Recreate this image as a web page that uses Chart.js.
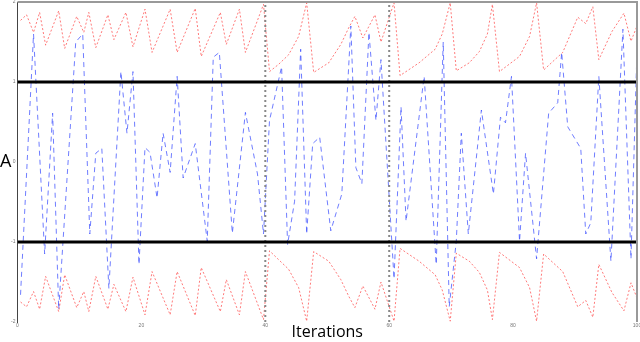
<!DOCTYPE html>
<html>
<head>
<meta charset="utf-8">
<script src="https://cdn.jsdelivr.net/npm/chart.js@4"></script>
<style>
  body { margin: 0; background: #fff; }
  #wrap { width: 640px; height: 342px; }
</style>
</head>
<body>
<div id="wrap"><canvas id="myChart" width="640" height="342"></canvas></div>
<script>
// iterations ticks and y ticks
const xTicks = [0, 20, 40, 60, 80, 100]
const yTicks = [-2, -1, 0, 1, 2]
const thresholds = [1, -1]
const phaseMarks = [40, 60]

// red bound (top) and its mirror (bottom)
const redX = [0.49, 1.46, 2.59, 3.57, 4.54, 6.65, 7.62, 9.56, 10.70, 11.51, 12.64, 14.59, 15.56, 17.50, 18.64,
  20.58, 21.72, 24.64, 25.77, 28.69, 29.66, 32.74, 33.71, 35.82, 36.79, 39.71, 40.68, 42.14, 43.76, 45.38,
  46.68, 47.81, 50.24, 52.19, 53.48, 54.46, 55.75, 57.70, 58.67, 60.78, 61.75, 64.83, 67.42, 68.56, 69.85,
  70.83, 72.93, 74.55, 75.85, 76.66, 77.80, 81.04, 82.66, 83.79, 84.93, 88.01, 90.44, 91.73, 92.87, 93.84,
  95.95, 97.89, 99.03, 100]
const redTop = [1.77, 1.84, 1.62, 1.87, 1.46, 1.89, 1.42, 1.82, 1.62, 1.87, 1.43, 1.84, 1.53, 1.87, 1.44,
  1.91, 1.37, 1.91, 1.37, 1.92, 1.32, 1.87, 1.47, 1.91, 1.37, 1.97, 1.13, 1.22, 1.34, 1.57,
  1.99, 1.12, 1.24, 1.47, 1.68, 1.82, 1.55, 1.84, 1.50, 1.99, 1.08, 1.24, 1.41, 1.60, 1.99,
  1.14, 1.24, 1.38, 1.60, 1.97, 1.13, 1.32, 1.57, 1.99, 1.15, 1.37, 1.81, 1.73, 1.94, 1.28,
  1.63, 1.86, 1.51, 1.70]
const redBottom = [-1.75, -1.81, -1.62, -1.84, -1.43, -1.87, -1.41, -1.82, -1.62, -1.87, -1.43, -1.84, -1.53, -1.87, -1.44,
  -1.91, -1.37, -1.91, -1.37, -1.92, -1.32, -1.87, -1.47, -1.91, -1.37, -1.97, -1.11, -1.22, -1.34, -1.57,
  -1.99, -1.12, -1.24, -1.47, -1.68, -1.82, -1.55, -1.84, -1.50, -1.99, -1.08, -1.24, -1.41, -1.60, -1.99,
  -1.14, -1.24, -1.38, -1.60, -1.97, -1.13, -1.32, -1.57, -1.99, -1.15, -1.37, -1.81, -1.73, -1.94, -1.28,
  -1.63, -1.86, -1.51, -1.70]

// blue trajectory
const blueX = [0.49, 2.59, 4.38, 5.67, 6.65, 9.40, 10.53, 11.67, 12.64, 13.61, 14.75, 16.69, 17.67, 18.64,
  19.61, 20.58, 21.39, 22.53, 23.50, 24.64, 25.77, 26.74, 28.69, 30.63, 31.60, 32.58, 34.68, 36.79,
  38.74, 39.71, 40.68, 42.63, 43.60, 44.73, 45.71, 46.68, 47.65, 48.78, 50.57, 52.35, 53.81, 54.62,
  55.59, 56.73, 57.86, 58.67, 60.78, 61.91, 62.72, 65.64, 67.59, 68.72, 69.69, 70.83, 71.64, 72.77,
  74.88, 76.82, 77.96, 78.77, 79.74, 81.04, 82.01, 83.79, 85.74, 87.20, 87.84, 88.82, 90.92, 91.73,
  92.54, 93.84, 95.79, 97.73, 99.03, 100]
const blueY = [-1.66, 1.60, -1.15, 0.61, -1.84, 1.50, 1.60, -0.90, 0.11, 0.17, -1.58, 1.13, 0.36, 1.13,
  -1.28, 0.18, 0.12, -0.45, 0.36, -0.13, 1.07, -0.20, 0.23, -0.99, 1.31, 1.37, -0.89, 0.62,
  -0.15, -0.90, 0.52, 1.19, -1.03, -0.49, 1.41, -0.90, 0.23, 0.31, -0.86, -0.40, 1.70, -0.07,
  -0.27, 1.62, 0.52, 1.28, -1.46, 0.69, -0.74, 1.07, -1.28, 1.50, -1.81, -0.99, 0.36, -0.90,
  0.65, -0.40, 0.56, 0.49, 1.07, -0.99, 0.11, -1.21, 0.61, 0.74, 1.37, 0.44, 0.17, -0.90,
  -0.76, 1.07, -1.24, 1.66, -1.21, 1.41]

let pts = (xs, ys) => xs.map((x, i) => ({ x: x, y: ys[i] }))

let datasets = []
thresholds.forEach(t => {
  datasets.push({
    data: [{ x: 0, y: t }, { x: 100, y: t }],
    borderColor: '#000', borderWidth: 3, order: 0
  })
})
phaseMarks.forEach(m => {
  datasets.push({
    data: [{ x: m, y: -2 }, { x: m, y: 2 }],
    borderColor: '#888', borderWidth: 2, borderDash: [2, 3], order: 1
  })
})
datasets.push({
  data: pts(blueX, blueY),
  borderColor: 'rgba(50, 70, 255, 0.7)', borderWidth: 1, borderDash: [5, 4], order: 3
})
datasets.push({
  data: pts(redX, redTop),
  borderColor: 'rgba(255, 50, 50, 0.65)', borderWidth: 1, borderDash: [2, 2], order: 2
})
datasets.push({
  data: pts(redX, redBottom),
  borderColor: 'rgba(255, 50, 50, 0.65)', borderWidth: 1, borderDash: [2, 2], order: 2
})

const frame = {
  id: 'frame',
  afterDraw(chart) {
    let c = chart.ctx, a = chart.chartArea
    c.save()
    c.strokeStyle = '#999'
    c.lineWidth = 2
    c.beginPath()
    c.moveTo(a.left, a.top)
    c.lineTo(a.right, a.top)
    c.lineTo(a.right, a.bottom)
    c.stroke()
    c.fillStyle = '#000'
    c.font = '18px "Open Sans", sans-serif'
    c.textAlign = 'left'
    c.textBaseline = 'middle'
    c.fillText('A', 0, (a.top + a.bottom) / 2)
    c.restore()
  }
}

new Chart(document.getElementById('myChart'), {
  type: 'line',
  data: { datasets: datasets },
  options: {
    responsive: false,
    animation: false,
    layout: { padding: { left: 0, right: 3, top: 2, bottom: 0 } },
    elements: { point: { radius: 0 }, line: { tension: 0 } },
    plugins: { legend: { display: false }, tooltip: { enabled: false } },
    scales: {
      x: {
        type: 'linear', min: 0, max: 100,
        afterBuildTicks: s => { s.ticks = xTicks.map(v => ({ value: v })) },
        grid: { display: false, drawTicks: false },
        border: { display: false },
        ticks: { color: '#777', font: { size: 5 }, padding: 1, maxRotation: 0 },
        title: { display: true, text: 'Iterations', color: '#000', font: { size: 16, family: '"Open Sans", sans-serif' }, padding: 0 },
        afterFit: s => { s.height = 20; s.paddingLeft = 0; s.paddingRight = 0 }
      },
      y: {
        type: 'linear', min: -2, max: 2,
        afterBuildTicks: s => { s.ticks = yTicks.map(v => ({ value: v })) },
        grid: { display: false, drawTicks: false },
        border: { display: true, color: '#444', width: 1 },
        ticks: { color: '#777', font: { size: 5 }, padding: 2 },
        afterFit: s => { s.width = 17.5; s.paddingTop = 0; s.paddingBottom = 0 }
      }
    }
  },
  plugins: [frame]
})
</script>
</body>
</html>
